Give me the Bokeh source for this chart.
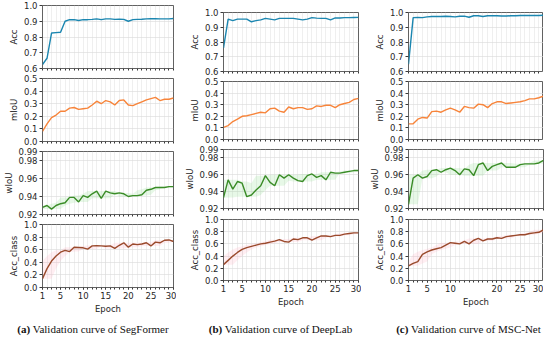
from bokeh.plotting import figure
from bokeh.layouts import row, column
from bokeh.models import Range1d, FixedTicker, PrintfTickFormatter, Div, ColumnDataSource
from bokeh.embed import file_html
from bokeh.resources import INLINE

epochs = list(range(1, 31))

# ---- SegFormer ----
seg_acc = [0.625, 0.665, 0.825, 0.828, 0.83, 0.90, 0.910, 0.910, 0.905, 0.910,
           0.910, 0.912, 0.915, 0.910, 0.915, 0.915, 0.912, 0.913, 0.912, 0.900,
           0.910, 0.912, 0.913, 0.915, 0.916, 0.916, 0.915, 0.915, 0.915, 0.917]
seg_miou = [0.08, 0.14, 0.19, 0.21, 0.24, 0.24, 0.265, 0.27, 0.255, 0.26,
            0.265, 0.29, 0.32, 0.30, 0.325, 0.315, 0.29, 0.325, 0.33, 0.29,
            0.285, 0.30, 0.315, 0.33, 0.34, 0.35, 0.325, 0.335, 0.335, 0.345]
seg_wiou = [0.928, 0.930, 0.926, 0.930, 0.932, 0.933, 0.939, 0.939, 0.934, 0.941,
            0.939, 0.943, 0.946, 0.938, 0.946, 0.944, 0.943, 0.944, 0.943, 0.940,
            0.941, 0.941, 0.942, 0.947, 0.948, 0.950, 0.950, 0.950, 0.951, 0.951]
seg_accc = [0.14, 0.30, 0.42, 0.50, 0.56, 0.59, 0.57, 0.64, 0.635, 0.63,
            0.61, 0.66, 0.665, 0.66, 0.655, 0.66, 0.62, 0.67, 0.71, 0.64,
            0.69, 0.68, 0.69, 0.71, 0.66, 0.72, 0.71, 0.75, 0.755, 0.73]

# ---- DeepLab ----
dl_acc = [0.76, 0.955, 0.945, 0.955, 0.955, 0.955, 0.937, 0.945, 0.95, 0.96,
          0.955, 0.95, 0.96, 0.96, 0.96, 0.96, 0.955, 0.95, 0.955, 0.965,
          0.962, 0.96, 0.96, 0.95, 0.963, 0.963, 0.965, 0.965, 0.966, 0.967]
dl_miou = [0.105, 0.12, 0.155, 0.175, 0.20, 0.205, 0.215, 0.225, 0.235, 0.23,
           0.265, 0.27, 0.245, 0.235, 0.28, 0.265, 0.275, 0.275, 0.26, 0.265,
           0.29, 0.285, 0.295, 0.295, 0.275, 0.30, 0.31, 0.32, 0.345, 0.355]
dl_wiou = [0.933, 0.954, 0.943, 0.952, 0.950, 0.934, 0.936, 0.942, 0.947, 0.959,
           0.951, 0.947, 0.960, 0.956, 0.960, 0.956, 0.953, 0.952, 0.959, 0.961,
           0.957, 0.959, 0.954, 0.963, 0.962, 0.962, 0.963, 0.964, 0.965, 0.965]
dl_accc = [0.26, 0.33, 0.40, 0.46, 0.51, 0.54, 0.56, 0.58, 0.60, 0.61,
           0.63, 0.645, 0.67, 0.64, 0.63, 0.68, 0.67, 0.70, 0.70, 0.66,
           0.70, 0.73, 0.73, 0.72, 0.74, 0.74, 0.76, 0.77, 0.78, 0.78]

# ---- MSC-Net ----
msc_acc = [0.65, 0.965, 0.967, 0.965, 0.97, 0.973, 0.973, 0.973, 0.975, 0.973,
           0.97, 0.975, 0.975, 0.968, 0.978, 0.978, 0.973, 0.978, 0.978, 0.978,
           0.976, 0.976, 0.978, 0.978, 0.98, 0.98, 0.98, 0.98, 0.98, 0.982]
msc_miou = [0.135, 0.135, 0.175, 0.19, 0.185, 0.24, 0.245, 0.235, 0.255, 0.27,
            0.255, 0.235, 0.285, 0.275, 0.27, 0.305, 0.30, 0.275, 0.31, 0.325,
            0.325, 0.31, 0.315, 0.32, 0.325, 0.335, 0.35, 0.35, 0.36, 0.375]
msc_wiou = [0.925, 0.956, 0.960, 0.956, 0.958, 0.965, 0.966, 0.963, 0.966, 0.968,
            0.965, 0.960, 0.967, 0.966, 0.959, 0.972, 0.974, 0.965, 0.970, 0.972,
            0.974, 0.969, 0.969, 0.969, 0.972, 0.973, 0.973, 0.973, 0.974, 0.977]
msc_accc = [0.24, 0.28, 0.31, 0.43, 0.47, 0.50, 0.52, 0.54, 0.58, 0.62,
            0.61, 0.60, 0.64, 0.60, 0.66, 0.69, 0.65, 0.68, 0.68, 0.70,
            0.69, 0.72, 0.73, 0.74, 0.75, 0.75, 0.77, 0.78, 0.79, 0.83]

xticks_ab = [1, 5, 10, 15, 20, 25, 30]
xticks_c = [1, 5, 10, 20, 25, 30]

metrics = ["Acc", "mIoU", "wIoU", "Acc_class"]
y_ranges = {"Acc": (0.6, 1.0), "mIoU": (0.0, 0.5), "wIoU": (0.92, 0.99), "Acc_class": (0.0, 1.0)}
y_ticks = {"Acc": [0.6, 0.7, 0.8, 0.9, 1.0],
           "mIoU": [0.0, 0.1, 0.2, 0.3, 0.4, 0.5],
           "wIoU": [0.92, 0.94, 0.96, 0.98, 0.99],
           "Acc_class": [0.0, 0.2, 0.4, 0.6, 0.8, 1.0]}
y_fmt = {"Acc": "%.1f", "mIoU": "%.1f", "wIoU": "%.2f", "Acc_class": "%.1f"}
line_colors = {"Acc": "#1b86b0", "mIoU": "#f7843a", "wIoU": "#3a8c27", "Acc_class": "#9a4a2c"}
band_colors = {"wIoU": "#79d879", "Acc_class": "#ff9fb8"}

FONT = "DejaVu Sans"
TXT = "#262626"


def rolling_band(v, k=2):
    lo, hi = [], []
    for i in range(len(v)):
        seg = v[max(0, i - k): i + k + 1]
        lo.append(min(seg))
        hi.append(max(seg))
    return lo, hi


def make_fig(metric, vals, fw, fh, bl, br, bt, bb, xt, bottom):
    p = figure(frame_width=fw, frame_height=fh,
               x_range=Range1d(1, 30), y_range=Range1d(*y_ranges[metric]),
               output_backend="svg", toolbar_location=None,
               min_border_left=bl, min_border_right=br,
               min_border_top=bt, min_border_bottom=bb)
    p.background_fill_color = "white"
    p.border_fill_color = "white"
    p.outline_line_color = "#3a3a3a"
    p.outline_line_width = 0.8

    src = ColumnDataSource(dict(x=epochs, y=vals))
    if metric in band_colors:
        lo, hi = rolling_band(vals)
        p.varea(x=epochs, y1=lo, y2=hi, fill_color=band_colors[metric], fill_alpha=0.18)
    p.line("x", "y", source=src, line_color=line_colors[metric], line_width=1.4)

    xtk = FixedTicker(ticks=xt if bottom else [], minor_ticks=epochs)
    p.xaxis.ticker = xtk
    p.xgrid.ticker = xtk
    p.xgrid.grid_line_color = "#dedede"
    p.xgrid.grid_line_width = 0.6
    p.xgrid.minor_grid_line_color = "#e4e4e4"
    p.xgrid.minor_grid_line_width = 0.6
    p.yaxis.ticker = FixedTicker(ticks=y_ticks[metric])
    p.yaxis.formatter = PrintfTickFormatter(format=y_fmt[metric])
    p.ygrid.grid_line_color = "#d8d8d8"
    p.ygrid.grid_line_width = 0.6

    p.axis.axis_line_color = None
    p.axis.major_tick_line_color = "#3a3a3a"
    p.axis.minor_tick_line_color = "#3a3a3a"
    p.xaxis.major_tick_in = 0
    p.xaxis.major_tick_out = 2
    p.xaxis.minor_tick_in = 0
    p.xaxis.minor_tick_out = 2
    p.yaxis.major_tick_in = 0
    p.yaxis.major_tick_out = 3
    p.yaxis.minor_tick_line_color = None
    p.axis.major_label_text_font = FONT
    p.axis.major_label_text_font_size = "8.5px"
    p.axis.major_label_text_color = TXT
    p.axis.major_label_standoff = 2
    p.axis.axis_label_text_font = FONT
    p.axis.axis_label_text_font_size = "8.5px"
    p.axis.axis_label_text_font_style = "normal"
    p.axis.axis_label_text_color = TXT
    p.axis.axis_label_standoff = 2
    p.yaxis.axis_label = metric
    if bottom:
        p.xaxis.axis_label = "Epoch"
    return p


def make_column(series, fw, specs, xt, bl, br):
    figs = []
    for i, (m, v) in enumerate(zip(metrics, series)):
        fh, bt, bb = specs[i]
        figs.append(make_fig(m, v, fw, fh, bl, br, bt, bb, xt, i == 3))
    return column(*figs, spacing=0)


specs_a = [(63, 5, 5), (63, 5, 5), (63, 5, 5), (63, 5, 28)]
specs_bc = [(59, 12, 5), (58, 5, 5), (59, 5, 5), (61, 6, 28)]

col_a = make_column([seg_acc, seg_miou, seg_wiou, seg_accc], 131, specs_a, xticks_ab, 37, 8)
col_b = make_column([dl_acc, dl_miou, dl_wiou, dl_accc], 135, specs_bc, xticks_ab, 37, 8)
col_c = make_column([msc_acc, msc_miou, msc_wiou, msc_accc], 135, specs_bc, xticks_c, 37, 5)

captions = [("(a)", "Validation curve of SegFormer", 176),
            ("(b)", "Validation curve of DeepLab", 179),
            ("(c)", "Validation curve of MSC-Net", 177)]
divs = []
for tag, txt, w in captions:
    divs.append(Div(text=('<div style="width:%dpx;text-align:center;font-family:\'Liberation Serif\',serif;'
                          'font-size:11px;line-height:14px;color:#111;"><b>%s</b> %s</div>') % (w, tag, txt),
                    width=w, height=16))

layout = column(row(col_a, col_b, col_c, spacing=0), row(*divs, spacing=0), spacing=0)

open("out.html", "w").write(file_html(layout, INLINE))
